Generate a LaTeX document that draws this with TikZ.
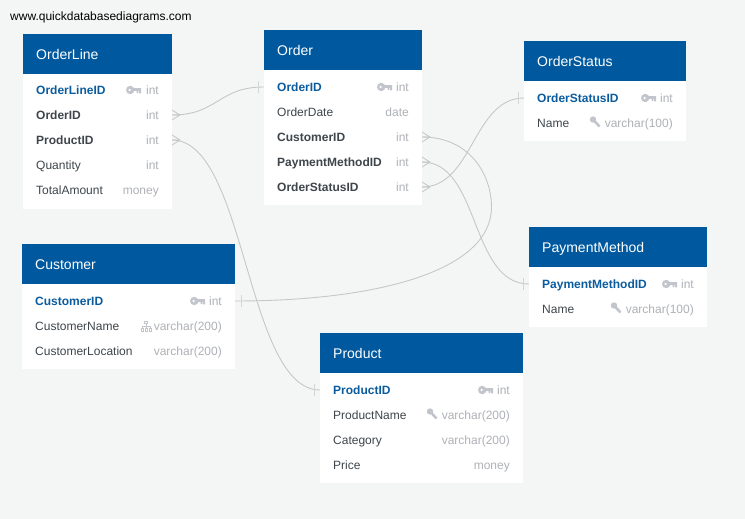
\documentclass[tikz,border=0pt]{standalone}
\usepackage{fontspec}
\setmainfont{Liberation Sans}
\usetikzlibrary{positioning}
\definecolor{pagebg}{HTML}{F4F6F6}
\definecolor{headblue}{HTML}{00599F}
\definecolor{keyblue}{HTML}{0B5C9E}
\definecolor{rowtext}{HTML}{3E454B}
\definecolor{typegray}{HTML}{AEB1B6}
\definecolor{icongray}{HTML}{C2C6CC}
\definecolor{linkgray}{HTML}{C6C8C6}
\definecolor{tickgray}{HTML}{D4D6D4}
\tikzset{
  headbox/.style={fill=headblue,text=white,anchor=north west,inner sep=0pt,minimum height=40pt,
    text height=10pt,text depth=0pt,font=\fontsize{14}{16}\selectfont,align=left,
    minimum width=#1,inner xsep=13pt,text width=#1-26pt},
  fieldname/.style={anchor=west,inner sep=0pt,text height=8.6pt,text depth=0pt,text=rowtext,font=\fontsize{12}{14}\selectfont},
  pkname/.style={fieldname,text=keyblue,font=\fontsize{12}{14}\selectfont\bfseries},
  fkname/.style={fieldname,font=\fontsize{12}{14}\selectfont\bfseries},
  fieldtype/.style={anchor=east,inner sep=0pt,text height=8.6pt,text depth=0pt,text=typegray,font=\fontsize{12}{14}\selectfont},
  link/.style={draw=linkgray,line width=.9pt},
  keyicon/.pic={
    \fill[icongray,even odd rule] (4.2,0) circle (4.2) (3.6,0) circle (1.5);
    \fill[icongray] (7,-1.8) rectangle (15,1) (10.5,1) rectangle (12.3,3) (13.2,1) rectangle (15,3.4);
  },
  idxicon/.pic={
    \fill[icongray] (3,-2.5) circle (3.2);
    \draw[icongray,line width=2.6pt] (4,-1.5) -- (9.5,4.5);
  },
  treeicon/.pic={
    \draw[icongray,line width=.9pt] (3.5,-5) rectangle (6.5,-2.5) (5,-2.5) -- (5,0) (1,2) -- (1,0) -- (9,0) -- (9,2) (5,0) -- (5,2)
      (0,2) rectangle (2,5) (4,2) rectangle (6,5) (8,2) rectangle (10,5);
  },
  pics/crowfoot/.style={code={
    \draw[link,line width=.8pt] (0,-5) -- (8,0) -- (0,5) (0,0) -- (8,0);
  }},
  pics/crossbar/.style={code={
    \draw[draw=tickgray,line width=1pt] (0,-6) -- (0,6);
  }}
}
\begin{document}
\begin{tikzpicture}[x=1pt,y=-1pt]
  \useasboundingbox[fill=pagebg] (0,0) rectangle (745,519);
  \node[anchor=west,inner sep=0pt,text height=8.6pt,text depth=0pt,font=\fontsize{12}{14}\selectfont] (site) at (10,16) {www.quickdatabasediagrams.com};

  % table cards
  \fill[white] (23,74) rectangle (172,209);
  \fill[white] (264,70) rectangle (422,205);
  \fill[white] (524,81) rectangle (686,141);
  \fill[white] (529,267) rectangle (707,327);
  \fill[white] (22,284) rectangle (235,369);
  \fill[white] (320,373) rectangle (523,483);

  % links
  \coordinate (olOrderEnd) at (172,115);
  \coordinate (olProductEnd) at (172,140);
  \coordinate (orderKeyEnd) at (264,87);
  \coordinate (orderCustEnd) at (422,137);
  \coordinate (orderPayEnd) at (422,162);
  \coordinate (orderStatEnd) at (422,187);
  \coordinate (statKeyEnd) at (524,98);
  \coordinate (payKeyEnd) at (529,284);
  \coordinate (custKeyEnd) at (235,301);
  \coordinate (prodKeyEnd) at (320,390);
  \coordinate (custBend) at (491.5,207);

  \draw[link] (olOrderEnd) .. controls +(46,0) and +(-46,0) .. (orderKeyEnd);
  \draw[link] (olProductEnd) .. controls +(74,0) and +(-74,0) .. (prodKeyEnd);
  \draw[link] (orderCustEnd) .. controls +(48,0) and +(0,-32) .. (custBend) .. controls +(0,63) and +(145,0) .. (custKeyEnd);
  \draw[link] (orderPayEnd) .. controls +(58,0) and +(-59,0) .. (payKeyEnd);
  \draw[link] (orderStatEnd) .. controls +(51,0) and +(-51,0) .. (statKeyEnd);

  \foreach \e in {olOrderEnd,olProductEnd,orderCustEnd,orderPayEnd,orderStatEnd}
    \pic at (\e) {crowfoot};
  \pic at ([xshift=-6pt]orderKeyEnd) {crossbar};
  \pic at ([xshift=-6pt]statKeyEnd) {crossbar};
  \pic at ([xshift=-6pt]payKeyEnd) {crossbar};
  \pic at ([xshift=-6pt]prodKeyEnd) {crossbar};
  \pic at ([xshift=6pt]custKeyEnd) {crossbar};

  % OrderLine
  \node[headbox=149pt] (orderline) at (23,34) {OrderLine};
  \node[pkname] (ol1) at (36,90) {OrderLineID};
  \node[fkname] (ol2) at (36,115) {OrderID};
  \node[fkname] (ol3) at (36,140) {ProductID};
  \node[fieldname] (ol4) at (36,165) {Quantity};
  \node[fieldname] (ol5) at (36,190) {TotalAmount};
  \node[fieldtype] (ol1t) at (159,90) {int};
  \node[fieldtype] (ol2t) at (159,115) {int};
  \node[fieldtype] (ol3t) at (159,140) {int};
  \node[fieldtype] (ol4t) at (159,165) {int};
  \node[fieldtype] (ol5t) at (159,190) {money};
  \pic at (126,90) {keyicon};

  % Order
  \node[headbox=158pt] (order) at (264,30) {Order};
  \node[pkname] (o1) at (277,87) {OrderID};
  \node[fieldname] (o2) at (277,112) {OrderDate};
  \node[fkname] (o3) at (277,137) {CustomerID};
  \node[fkname] (o4) at (277,162) {PaymentMethodID};
  \node[fkname] (o5) at (277,187) {OrderStatusID};
  \node[fieldtype] (o1t) at (409,87) {int};
  \node[fieldtype] (o2t) at (409,112) {date};
  \node[fieldtype] (o3t) at (409,137) {int};
  \node[fieldtype] (o4t) at (409,162) {int};
  \node[fieldtype] (o5t) at (409,187) {int};
  \pic at (377,87) {keyicon};

  % OrderStatus
  \node[headbox=162pt] (orderstatus) at (524,41) {OrderStatus};
  \node[pkname] (s1) at (537,98) {OrderStatusID};
  \node[fieldname] (s2) at (537,123) {Name};
  \node[fieldtype] (s1t) at (673,98) {int};
  \node[fieldtype] (s2t) at (673,123) {varchar(100)};
  \pic at (641,98) {keyicon};
  \pic at (590,122) {idxicon};

  % PaymentMethod
  \node[headbox=178pt] (paymentmethod) at (529,227) {PaymentMethod};
  \node[pkname] (p1) at (542,284) {PaymentMethodID};
  \node[fieldname] (p2) at (542,309) {Name};
  \node[fieldtype] (p1t) at (694,284) {int};
  \node[fieldtype] (p2t) at (694,309) {varchar(100)};
  \pic at (662,284) {keyicon};
  \pic at (611,308) {idxicon};

  % Customer
  \node[headbox=213pt] (customer) at (22,244) {Customer};
  \node[pkname] (c1) at (35,301) {CustomerID};
  \node[fieldname] (c2) at (35,326) {CustomerName};
  \node[fieldname] (c3) at (35,351) {CustomerLocation};
  \node[fieldtype] (c1t) at (222,301) {int};
  \node[fieldtype] (c2t) at (222,326) {varchar(200)};
  \node[fieldtype] (c3t) at (222,351) {varchar(200)};
  \pic at (190,301) {keyicon};
  \pic at (141,326) {treeicon};

  % Product
  \node[headbox=203pt] (product) at (320,333) {Product};
  \node[pkname] (d1) at (333,390) {ProductID};
  \node[fieldname] (d2) at (333,415) {ProductName};
  \node[fieldname] (d3) at (333,440) {Category};
  \node[fieldname] (d4) at (333,465) {Price};
  \node[fieldtype] (d1t) at (510,390) {int};
  \node[fieldtype] (d2t) at (510,415) {varchar(200)};
  \node[fieldtype] (d3t) at (510,440) {varchar(200)};
  \node[fieldtype] (d4t) at (510,465) {money};
  \pic at (478,390) {keyicon};
  \pic at (427,414) {idxicon};
\end{tikzpicture}
\end{document}
